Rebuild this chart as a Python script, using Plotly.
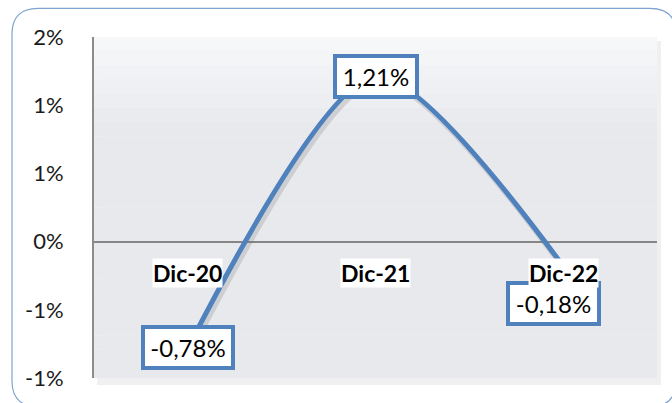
import plotly.graph_objects as go

categories = ["Dic-20", "Dic-21", "Dic-22"]
values = [-0.78, 1.21, -0.18]
value_labels = ["-0,78%", "1,21%", "-0,18%"]
tick_vals = [1.5, 1.0, 0.5, 0.0, -0.5, -1.0]
tick_labels = ["2%", "1%", "1%", "0%", "-1%", "-1%"]

W, H = 672, 403
PL, PR, PT, PB = 94, 657, 37, 383   # plot area in screen coords
L, T, R, B = PL, PT, W - PR, H - PB
pw, ph = PR - PL, PB - PT

def px(x):
    return (x - PL) / pw

def py(y):
    return (PB - y) / ph

BLUE = "#4F81BD"
FONT = "Lato, Open Sans, sans-serif"
SMOOTH = 0.75

xs = list(range(len(categories)))

fig = go.Figure()
fig.add_trace(go.Scatter(
    x=[x + 0.012 for x in xs], y=[v - 0.03 for v in values],
    mode="lines", line=dict(color="rgba(110,110,110,0.22)", width=6,
                            shape="spline", smoothing=SMOOTH),
    hoverinfo="skip", showlegend=False))
fig.add_trace(go.Scatter(
    x=xs, y=values, mode="lines",
    line=dict(color=BLUE, width=5, shape="spline", smoothing=SMOOTH),
    showlegend=False))

shapes = []
shapes.append(dict(type="rect", xref="paper", yref="paper", layer="below",
                   x0=px(PL + 3), x1=px(PR + 4), y0=py(PB + 7), y1=py(PT + 4),
                   fillcolor="#F0F0F0", line=dict(width=0)))
n = 24
top = (246, 247, 249)
bot = (232, 233, 237)
for i in range(n):
    f = min(1.0, i / 6.0)
    c = tuple(int(round(top[k] + (bot[k] - top[k]) * f)) for k in range(3))
    y0 = PT + (ph * i) / n
    y1 = PT + (ph * (i + 1)) / n
    shapes.append(dict(type="rect", xref="paper", yref="paper", layer="below",
                       x0=0, x1=1, y0=py(y1), y1=py(y0),
                       fillcolor="rgb(%d,%d,%d)" % c, line=dict(width=0)))
x0b, x1b, y0b, y1b, r = 12, 676, 8, 412, 26
def P(x, y):
    return "%.5f,%.5f" % (px(x), py(y))
path = ("M " + P(x0b + r, y0b) + " L " + P(x1b - r, y0b) +
        " Q " + P(x1b, y0b) + " " + P(x1b, y0b + r) +
        " L " + P(x1b, y1b - r) + " Q " + P(x1b, y1b) + " " + P(x1b - r, y1b) +
        " L " + P(x0b + r, y1b) + " Q " + P(x0b, y1b) + " " + P(x0b, y1b - r) +
        " L " + P(x0b, y0b + r) + " Q " + P(x0b, y0b) + " " + P(x0b + r, y0b) + " Z")
shapes.append(dict(type="path", xref="paper", yref="paper", path=path,
                   line=dict(color="#7FA3D1", width=1.2), layer="above"))

annotations = []
label_boxes = [(80, 0, 0), (72, 0, 0), (81, -10, -37)]
for x, v, lab, (bw, dx, dy) in zip(xs, values, value_labels, label_boxes):
    annotations.append(dict(x=x, y=v, text=lab, showarrow=False,
                            xshift=dx, yshift=dy, width=bw, height=31,
                            font=dict(family=FONT, size=24, color="#000000"),
                            bgcolor="#FFFFFF", bordercolor=BLUE, borderwidth=4,
                            borderpad=3))
for x, c in zip(xs, categories):
    annotations.append(dict(x=x, y=0, text="<b>" + c + "</b>", showarrow=False,
                            yshift=-31,
                            font=dict(family=FONT, size=23, color="#000000"),
                            bgcolor="#FFFFFF", borderpad=0))

fig.update_layout(
    width=W, height=H,
    margin=dict(l=L, r=R, t=T, b=B),
    paper_bgcolor="#FFFFFF",
    plot_bgcolor="rgba(0,0,0,0)",
    shapes=shapes,
    annotations=annotations,
    xaxis=dict(range=[-0.5, 2.5], showgrid=False, zeroline=False,
               showticklabels=False, showline=False, fixedrange=True),
    yaxis=dict(range=[-1.0, 1.5], tickvals=tick_vals, ticktext=tick_labels,
               showgrid=False, zeroline=True, zerolinecolor="#868686",
               zerolinewidth=1.5, showline=True, linecolor="#8C8C8C", linewidth=2,
               ticks="", ticklabelstandoff=24, fixedrange=True,
               tickfont=dict(family=FONT, size=22, color="#1A1A1A")),
    showlegend=False,
)

fig.write_html("out.html", config={"displayModeBar": False},
               post_script="document.body.style.margin='0';document.body.style.overflow='hidden';")
